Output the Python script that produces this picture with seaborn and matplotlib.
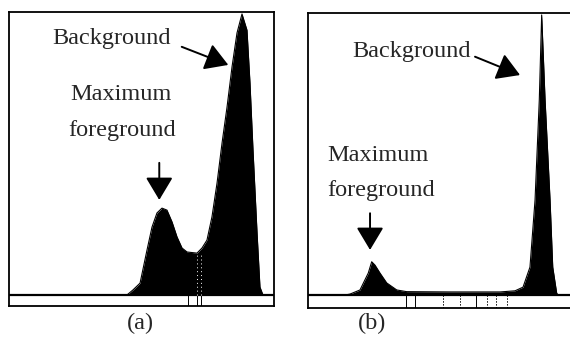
import matplotlib
matplotlib.use("Agg")
import matplotlib.pyplot as plt
import seaborn as sns
import pandas as pd

# ---- data (gray level vs. relative pixel count) ----
a_level = [113.5, 119.3, 126.1, 132.8, 137.6, 142.4, 147.2, 152.0, 156.9, 161.7,
           166.5, 171.3, 180.9, 185.7, 190.5, 195.3, 200.2, 205.0, 209.8, 214.6,
           219.4, 224.2, 229.0, 231.9, 234.8, 238.7, 241.5, 244.4]
a_count = [0.0, 1.8, 4.2, 15.9, 24.0, 29.0, 30.7, 30.0, 25.8, 20.5,
           16.6, 15.2, 14.8, 16.6, 19.4, 27.6, 39.6, 53.7, 66.4, 80.6,
           92.6, 99.3, 93.6, 74.9, 51.2, 21.9, 2.8, 0.0]
a_thresholds = [172.2, 180.9, 184.7]

b_level = [35.7, 40.6, 50.2, 58.2, 61.5, 64.7, 69.5, 76.0, 85.7, 95.3,
           137.2, 185.5, 200.0, 207.7, 214.4, 219.3, 223.4, 225.7, 229.0, 233.8,
           236.4, 240.2, 241.5]
b_count = [0.0, 0.35, 1.8, 7.8, 11.8, 10.6, 7.8, 4.3, 1.8, 1.2,
           1.1, 1.1, 1.5, 2.8, 9.9, 33.7, 69.1, 99.3, 69.1, 33.7,
           9.9, 0.7, 0.0]
b_thresholds = [94.7, 103.4, 130.4, 146.8, 162.3, 172.9, 181.6, 192.2]
b_dotted = [False, False, True, True, False, True, True, True]

panel_labels = ["(a)", "(b)"]

sns.set_style("white")
plt.rcParams['font.family'] = ['Liberation Serif', 'DejaVu Serif']

fig = plt.figure(figsize=(5.7, 3.39), dpi=100)
ax_a = fig.add_axes([0.0158, 0.0973, 0.4649, 0.8673])
ax_b = fig.add_axes([0.5404, 0.0914, 0.4631, 0.8703])

FS = 17.5


def draw(ax, lev, cnt, ybot):
    df = pd.DataFrame({"level": lev, "count": cnt})
    sns.lineplot(data=df, x="level", y="count", color="black", lw=0.8,
                 estimator=None, sort=False, ax=ax)
    ax.fill_between(df["level"], df["count"], 0, color="black", lw=0)
    ax.axhline(0, color="black", lw=1.6)
    ax.set_xlim(0, 255)
    ax.set_ylim(ybot, 100)
    ax.set_xticks([])
    ax.set_yticks([])
    ax.set_xlabel("")
    ax.set_ylabel("")
    for s in ax.spines.values():
        s.set_visible(True)
        s.set_color("black")
        s.set_linewidth(1.3)


draw(ax_a, a_level, a_count, -3.89)
draw(ax_b, b_level, b_count, -4.6)

# threshold marks in the strip
for t in a_thresholds:
    ax_a.plot([t, t], [-3.89, 0], color="black", lw=0.7)
for t in a_thresholds[1:]:
    ax_a.plot([t, t], [0, 15], color="white", lw=0.7, ls=(0, (1, 3)))
for t, d in zip(b_thresholds, b_dotted):
    ax_b.plot([t, t], [-4.6, 0], color="black", lw=0.7,
              ls=(0, (1.5, 1.5)) if d else "-")

arrow = dict(arrowstyle="-|>,head_length=0.7,head_width=0.42",
             mutation_scale=20, color="black", lw=1.4, shrinkA=0, shrinkB=0)


def label(ax, x, y, s):
    ax.text(x, y, s, ha="center", va="center", fontsize=FS)


# panel (a) annotations
label(ax_a, 98.6, 90.8, "Background")
ax_a.annotate("", xy=(211.0, 81.3), xytext=(166.2, 87.7), arrowprops=arrow)
label(ax_a, 107.6, 70.7, "Maximum")
label(ax_a, 109.1, 58.3, "foreground")
ax_a.annotate("", xy=(144.6, 33.6), xytext=(144.6, 46.7), arrowprops=arrow)

# panel (b) annotations
label(ax_b, 100.2, 86.3, "Background")
ax_b.annotate("", xy=(204.8, 78.0), xytext=(161.3, 84.5), arrowprops=arrow)
label(ax_b, 67.9, 49.6, "Maximum")
label(ax_b, 70.2, 37.2, "foreground")
ax_b.annotate("", xy=(59.9, 16.0), xytext=(59.9, 29.0), arrowprops=arrow)

fig.text(0.2456, 0.0472, panel_labels[0], ha="center", va="center", fontsize=FS)
fig.text(0.6526, 0.0472, panel_labels[1], ha="center", va="center", fontsize=FS)

fig.savefig("out.png", dpi=100)
